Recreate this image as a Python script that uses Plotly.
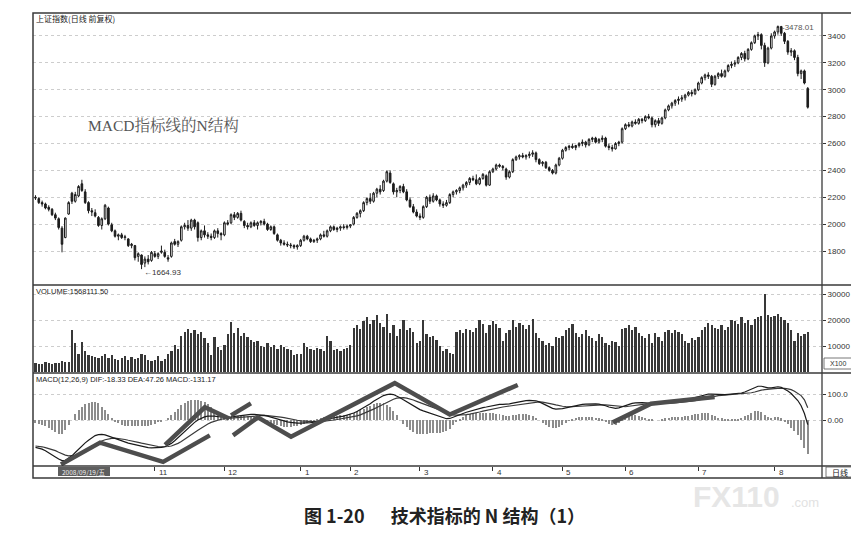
import plotly.graph_objects as go

# ---------------- data ----------------
opens = [2200,2190,2160,2150,2125,2110,2070,2040,1970,1900,
         2075,2230,2170,2210,2300,2240,2160,2100,2085,2050,
         1990,2040,2120,1995,1950,1910,1920,1900,1890,1840,
         1840,1760,1770,1710,1740,1730,1780,1760,1790,1790,
         1750,1760,1870,1850,1880,1980,1990,1970,2030,2010,
         1900,1950,1920,1910,1900,1950,1930,1920,2010,2010,
         2070,2050,2080,2020,1990,1980,2010,1990,2010,2020,
         2000,1960,1980,1920,1880,1860,1850,1845,1840,1830,
         1840,1880,1910,1890,1870,1880,1890,1920,1910,1950,
         1980,1960,1970,1980,1975,1985,2000,2050,2080,2100,
         2160,2190,2170,2230,2260,2250,2320,2380,2300,2240,
         2250,2280,2240,2180,2130,2090,2060,2050,2130,2200,
         2170,2210,2180,2150,2140,2160,2220,2240,2250,2270,
         2290,2310,2340,2330,2300,2340,2360,2290,2390,2410,
         2440,2430,2410,2350,2390,2480,2500,2510,2500,2510,
         2520,2530,2480,2450,2460,2420,2400,2380,2440,2490,
         2550,2570,2580,2570,2585,2600,2610,2590,2630,2640,
         2610,2630,2640,2580,2570,2560,2600,2610,2710,2740,
         2730,2760,2750,2780,2770,2800,2790,2740,2770,2750,
         2790,2850,2880,2900,2920,2930,2940,2960,2980,2970,
         3000,3050,3090,3110,3100,3040,3100,3120,3100,3140,
         3180,3190,3200,3240,3270,3230,3300,3350,3400,3410,
         3330,3200,3310,3400,3430,3470,3420,3360,3280,3290,
         3240,3120,3140,3010]
highs = [2215,2200,2175,2160,2140,2120,2085,2050,1985,2050,
         2170,2240,2240,2290,2330,2260,2170,2120,2110,2060,
         2050,2150,2130,2010,1960,1930,1935,1920,1895,1860,
         1845,1790,1775,1760,1770,1800,1800,1790,1840,1810,
         1770,1870,1890,1880,1990,2010,2030,2040,2040,2020,
         1960,1990,1940,1930,1960,1970,1940,2020,2030,2080,
         2090,2090,2100,2030,2010,2020,2030,2020,2030,2040,
         2010,1990,1990,1930,1890,1880,1870,1860,1850,1850,
         1890,1920,1920,1900,1890,1900,1930,1950,1960,1990,
         1990,1980,1990,2000,1995,2000,2060,2090,2110,2170,
         2200,2230,2240,2270,2290,2330,2400,2400,2310,2270,
         2290,2300,2260,2200,2150,2110,2080,2140,2210,2220,
         2230,2220,2190,2170,2180,2230,2250,2260,2280,2300,
         2320,2350,2360,2370,2350,2380,2370,2400,2420,2450,
         2450,2440,2420,2400,2490,2510,2520,2530,2520,2540,
         2550,2540,2490,2470,2470,2430,2410,2450,2500,2560,
         2580,2590,2600,2590,2610,2630,2620,2640,2650,2650,
         2640,2660,2650,2600,2590,2610,2620,2720,2750,2760,
         2770,2780,2790,2790,2810,2820,2800,2780,2790,2800,
         2860,2890,2910,2930,2950,2960,2970,2990,3000,3010,
         3060,3100,3120,3130,3110,3110,3130,3150,3150,3190,
         3210,3220,3250,3280,3290,3310,3360,3410,3430,3420,
         3350,3320,3420,3440,3478,3475,3430,3370,3310,3300,
         3260,3150,3150,3020]
lows = [2180,2150,2130,2110,2095,2060,2030,1960,1790,1895,
        2070,2150,2160,2200,2240,2150,2080,2060,2050,1980,
        1960,2030,1990,1940,1900,1880,1890,1880,1830,1820,
        1730,1720,1665,1680,1700,1720,1750,1740,1780,1750,
        1720,1750,1840,1830,1870,1960,1950,1950,1960,1870,
        1880,1900,1890,1880,1890,1900,1880,1910,1990,2000,
        2030,2040,2020,1970,1960,1970,1980,1960,1990,1990,
        1950,1950,1920,1870,1840,1840,1830,1820,1815,1810,
        1830,1870,1880,1860,1860,1860,1880,1900,1900,1940,
        1950,1940,1950,1960,1960,1970,1990,2040,2050,2090,
        2140,2150,2160,2200,2220,2240,2310,2300,2220,2200,
        2230,2230,2170,2120,2080,2050,2030,2040,2120,2150,
        2160,2170,2130,2120,2130,2150,2200,2220,2230,2250,
        2270,2290,2320,2290,2290,2330,2280,2285,2380,2400,
        2420,2400,2330,2340,2380,2470,2480,2490,2480,2490,
        2500,2460,2440,2430,2410,2390,2370,2370,2430,2480,
        2540,2550,2560,2550,2570,2580,2570,2580,2610,2600,
        2600,2610,2570,2550,2540,2555,2580,2600,2700,2720,
        2720,2740,2740,2750,2760,2780,2720,2720,2730,2740,
        2780,2840,2860,2880,2890,2910,2920,2950,2950,2960,
        2990,3040,3070,3080,3020,3030,3080,3090,3090,3130,
        3160,3170,3190,3220,3210,3220,3290,3340,3370,3300,
        3170,3190,3300,3380,3410,3400,3340,3260,3250,3220,
        3100,3080,3040,2860]
closes = [2195,2160,2150,2120,2110,2070,2045,1975,1850,2045,
          2160,2170,2220,2280,2250,2160,2100,2090,2060,1990,
          2040,2140,2000,1950,1910,1920,1900,1905,1840,1850,
          1750,1780,1700,1740,1720,1790,1760,1780,1800,1760,
          1740,1860,1850,1870,1980,1990,1970,2030,1980,1900,
          1950,1920,1910,1900,1950,1930,1920,2010,2000,2070,
          2050,2080,2030,1990,1980,2010,1990,2010,2020,2000,
          1960,1980,1930,1880,1860,1850,1845,1840,1830,1840,
          1880,1910,1890,1870,1880,1890,1920,1910,1950,1980,
          1960,1970,1980,1975,1985,1995,2050,2080,2100,2160,
          2190,2170,2230,2260,2240,2320,2390,2310,2240,2250,
          2280,2240,2180,2130,2090,2060,2050,2130,2200,2170,
          2210,2180,2150,2140,2160,2220,2240,2250,2270,2290,
          2310,2340,2330,2300,2340,2370,2290,2390,2410,2440,
          2430,2420,2350,2390,2480,2500,2510,2500,2510,2520,
          2530,2480,2450,2460,2420,2400,2380,2440,2490,2550,
          2570,2580,2570,2585,2600,2610,2590,2630,2640,2610,
          2630,2640,2580,2570,2560,2600,2610,2710,2740,2730,
          2760,2750,2780,2770,2800,2790,2740,2770,2750,2790,
          2850,2880,2900,2920,2930,2940,2960,2980,2970,3000,
          3050,3090,3110,3100,3040,3100,3120,3100,3140,3180,
          3190,3200,3240,3270,3230,3300,3350,3400,3410,3330,
          3200,3310,3400,3430,3470,3420,3360,3280,3290,3240,
          3120,3140,3050,2870]
volumes = [3500,3200,3000,3800,3300,3100,3600,3400,4200,3900,4000,
           16000,11000,7000,11500,8000,
           6500,6000,5800,5500,6300,6800,
           5200,6500,5000,4800,5500,6000,4500,5800,5000,5200,6800,6500,4600,4300,4800,6000,4200,5000,7000,
           8000,10500,9000,
           14000,15500,16700,15000,16000,14500,15500,13000,11000,
           6500,13500,9500,8500,10500,14700,19300,
           15000,17000,14000,
           15000,13500,12500,11500,12000,
           10000,9500,11000,9800,10200,9000,10500,9600,9000,8500,
           6500,7000,6800,11000,
           9500,9000,8500,9200,8800,8000,
           14000,12000,
           8500,9000,8200,8800,9200,10500,
           17000,18000,16500,19500,21000,18500,20000,22000,19000,17500,22500,
           15000,18000,14000,16500,20000,
           16000,17000,15500,11000,12000,20000,
           14500,13500,14000,12500,
           10000,8000,9000,7500,7000,
           15500,16000,15000,16500,16000,
           15500,17000,20000,18500,15000,
           18000,19500,18500,17000,12000,15000,
           16000,20000,17500,19000,18000,16500,
           18000,20500,15000,
           13000,12000,10500,11000,10000,
           13500,13000,14000,16000,17000,18500,
           15000,13500,14500,16000,14000,
           13000,12000,14500,13500,
           11000,10500,12000,11500,10000,
           16500,17000,18000,16000,17500,
           15000,14000,13000,14500,11000,15000,13500,12000,
           15500,16000,15000,16000,15500,14500,
           12000,11000,13000,12500,13500,
           16000,17500,19000,18000,
           17000,16500,18000,16000,17500,
           20000,19500,
           18500,21000,19000,20000,18000,20500,
           21000,21500,30000,
           22000,21000,21500,22500,21000,20000,
           19000,16000,12000,
           15000,14000,14500,15500]
dif = [-105,-108,-112,-118,-125,-132,-142,-150,-156,-155,
       -148,-138,-125,-112,-100,-88,-78,-68,-60,-56,
       -55,-57,-62,-67,-72,-77,-82,-86,-89,-92,
       -95,-98,-101,-104,-106,-107,-107,-106,-105,-103,
       -98,-90,-80,-68,-55,-42,-30,-19,-9,0,
       7,12,15,16,15,13,12,11,11,12,
       14,16,18,20,21,22,22,21,20,18,
       15,11,7,3,-1,-4,-7,-9,-11,-12,
       -12,-12,-11,-10,-8,-6,-3,0,3,6,
       8,10,13,15,18,22,27,33,40,47,
       55,63,72,80,88,94,98,100,98,93,
       86,78,70,62,54,46,40,35,31,27,
       22,17,12,8,5,6,10,15,20,25,
       30,34,38,42,45,48,50,53,56,58,
       60,60,60,62,65,68,71,73,75,76,
       76,74,70,64,57,50,45,42,42,44,
       47,50,53,56,58,60,61,62,62,62,
       61,59,55,50,46,45,47,52,57,61,
       64,66,67,67,66,65,64,63,63,64,
       66,68,70,72,73,75,77,79,82,86,
       90,94,98,100,100,99,98,98,98,99,
       100,101,102,104,108,113,119,125,130,130,
       126,124,124,126,128,126,120,112,102,90,
       75,55,25,-18]
dea = [-100,-101,-103,-106,-109,-113,-118,-124,-130,-135,
       -138,-138,-136,-131,-125,-118,-111,-103,-95,-88,
       -81,-76,-73,-71,-70,-71,-73,-75,-78,-80,
       -83,-86,-89,-92,-95,-98,-100,-102,-103,-103,
       -102,-100,-96,-90,-83,-75,-66,-57,-48,-39,
       -30,-22,-15,-9,-4,0,3,5,6,7,
       8,9,10,12,13,15,16,17,18,18,
       17,16,15,13,11,9,6,4,1,-1,
       -3,-4,-6,-7,-7,-7,-6,-5,-4,-2,
       0,2,4,6,8,10,13,16,20,25,
       30,36,42,48,55,62,69,75,80,84,
       86,86,84,81,77,72,67,62,57,52,
       47,42,37,32,27,23,20,19,19,20,
       21,23,25,28,31,34,37,40,43,46,
       48,50,52,54,56,58,60,62,64,66,
       68,70,70,69,67,64,61,58,55,53,
       52,51,51,52,53,54,55,56,57,58,
       58,58,58,57,56,54,52,51,51,53,
       55,57,59,61,62,63,63,63,63,63,
       63,64,65,66,67,69,70,72,73,75,
       78,81,84,87,90,92,94,95,96,97,
       98,99,100,100,101,103,105,108,112,115,
       117,119,120,121,122,123,122,120,117,111,
       104,94,78,47]

# hand-drawn "N structure" strokes on the MACD panel: (day index, value)
n_stroke_1 = [(7.7, -171), (19.5, -87), (38.5, -161), (52.6, -59)]
n_stroke_2 = [(39.1, -96), (51.1, 49), (58.4, 6)]
n_stroke_3 = [(59.0, 18), (65.0, 64)]
n_stroke_4 = [(59.6, -59), (67.1, 10), (77.1, -64), (108.4, 142), (125.0, 21), (145.5, 135)]
n_stroke_5 = [(174.2, -9), (185.7, 63), (204.9, 89)]

price_ticks = [1800, 2000, 2200, 2400, 2600, 2800, 3000, 3200, 3400]
vol_ticks = [10000, 20000, 30000]
vol_ticktext = ["10000", "20000", "30000"]
macd_ticks = [0, 100]
macd_ticktext = ["0.00", "100.0"]
month_idx = [36, 57, 80, 95, 116, 138, 159, 178, 200, 223]
month_labels = ["11", "12", "1", "2", "3", "4", "5", "6", "7", "8"]
low_idx, low_val = 32, 1664.93
high_idx, high_val = 224, 3478.01

N = len(closes)
for arr in (opens, highs, lows, volumes, dif, dea):
    assert len(arr) == N, len(arr)
idx = list(range(N))
macd_hist = [2 * (a - b) for a, b in zip(dif, dea)]

# ---------------- geometry helpers (pixel -> paper) ----------------
W, H = 859, 538
ML, MR, MT, MB = 25, 45, 5, 80
PW, PH = W - ML - MR, H - MT - MB
def PX(px):
    return (px - ML) / PW
def PY(py):
    return (H - MB - py) / PH

XR = [-0.75, 237.3]
dom_price = [PY(277), 1]
dom_vol = [PY(365), PY(277)]
dom_macd = [0, PY(365)]

SMALL = "Liberation Sans, Arial, sans-serif"
CJK = "Noto Sans CJK SC, sans-serif"

fig = go.Figure()
fig.add_trace(go.Candlestick(
    x=idx, open=opens, high=highs, low=lows, close=closes,
    increasing=dict(line=dict(color="#1c1c1c", width=1), fillcolor="#ffffff"),
    decreasing=dict(line=dict(color="#1c1c1c", width=1), fillcolor="#1c1c1c"),
    whiskerwidth=0, xaxis="x", yaxis="y", showlegend=False, hoverinfo="skip"))
fig.add_trace(go.Bar(
    x=idx, y=volumes, width=0.68, marker=dict(color="#383838", line=dict(width=0)),
    xaxis="x2", yaxis="y2", showlegend=False, hoverinfo="skip"))
fig.add_trace(go.Bar(
    x=idx, y=macd_hist, width=0.3, marker=dict(color="#8c8c8c", line=dict(width=0)),
    xaxis="x3", yaxis="y3", showlegend=False, hoverinfo="skip"))
fig.add_trace(go.Scatter(
    x=idx, y=dea, mode="lines", line=dict(color="#3a3a3a", width=1.2),
    xaxis="x3", yaxis="y3", showlegend=False, hoverinfo="skip"))
fig.add_trace(go.Scatter(
    x=idx, y=dif, mode="lines", line=dict(color="#1a1a1a", width=1.2),
    xaxis="x3", yaxis="y3", showlegend=False, hoverinfo="skip"))
for stroke in (n_stroke_1, n_stroke_2, n_stroke_3, n_stroke_4, n_stroke_5):
    fig.add_trace(go.Scatter(
        x=[p[0] for p in stroke], y=[p[1] for p in stroke], mode="lines",
        line=dict(color="#4d4d4d", width=4.5), xaxis="x3", yaxis="y3",
        showlegend=False, hoverinfo="skip"))

axis_common = dict(showgrid=False, zeroline=False, showline=False)
yaxis_common = dict(side="right", showgrid=True, gridcolor="#cdcdcd", griddash="dot",
                    gridwidth=1, zeroline=False, showline=False, ticks="outside",
                    ticklen=3, tickcolor="#333", tickfont=dict(family=SMALL, size=8, color="#333"))

fig.update_layout(
    width=W, height=H, margin=dict(l=ML, r=MR, t=MT, b=MB),
    paper_bgcolor="white", plot_bgcolor="white", showlegend=False,
    bargap=0,
    xaxis=dict(domain=[0, 1], range=XR, anchor="y", showticklabels=False, ticks="",
               rangeslider=dict(visible=False), **axis_common),
    xaxis2=dict(domain=[0, 1], range=XR, anchor="y2", matches="x", showticklabels=False,
                ticks="", **axis_common),
    xaxis3=dict(domain=[0, 1], range=XR, anchor="y3", matches="x", showticklabels=False,
                tickmode="array", tickvals=month_idx, ticks="outside", ticklen=4,
                tickcolor="#333", **axis_common),
    yaxis=dict(domain=dom_price, range=[1547, 3571], anchor="x", tickmode="array",
               tickvals=price_ticks, **yaxis_common),
    yaxis2=dict(domain=dom_vol, range=[-385, 33460], anchor="x2", tickmode="array",
                tickvals=vol_ticks, ticktext=vol_ticktext, **yaxis_common),
    yaxis3=dict(domain=dom_macd, range=[-177, 181], anchor="x3", tickmode="array",
                tickvals=macd_ticks, ticktext=macd_ticktext, **yaxis_common),
)

# ---------------- frame lines ----------------
FC = "#3a3a3a"
shapes = [
    dict(type="rect", xref="paper", yref="paper", x0=PX(25), x1=PX(848), y0=PY(470), y1=PY(5),
         line=dict(color=FC, width=1.5)),
    dict(type="line", xref="paper", yref="paper", x0=PX(814), x1=PX(814), y0=PY(470), y1=PY(5),
         line=dict(color=FC, width=1.3)),
]
for py in (277, 365, 458):
    shapes.append(dict(type="line", xref="paper", yref="paper", x0=PX(25), x1=PX(848),
                       y0=PY(py), y1=PY(py), line=dict(color=FC, width=1.3)))
# small boxes: X100, 日线, cursor date
shapes.append(dict(type="rect", xref="paper", yref="paper", x0=PX(816), x1=PX(844),
                   y0=PY(361), y1=PY(350), line=dict(color="#555", width=0.8)))
shapes.append(dict(type="rect", xref="paper", yref="paper", x0=PX(818), x1=PX(846),
                   y0=PY(469), y1=PY(459), line=dict(color="#555", width=0.8)))
shapes.append(dict(type="rect", xref="paper", yref="paper", x0=PX(50), x1=PX(102),
                   y0=PY(468), y1=PY(459), fillcolor="#5e5e5e", line=dict(width=0)))
fig.update_layout(shapes=shapes)

ann = []
def text(px, py, s, size=8, family=SMALL, color="#333", xanchor="left", yanchor="middle"):
    ann.append(dict(xref="paper", yref="paper", x=PX(px), y=PY(py), text=s, showarrow=False,
                    xanchor=xanchor, yanchor=yanchor, borderpad=0,
                    font=dict(family=family, size=size, color=color)))

text(27, 11, "上证指数(日线 前复权)", size=8, family=CJK, color="#222")
text(27, 283, "VOLUME:1568111.50", size=7.5, color="#222")
text(27, 371, "MACD(12,26,9) DIF:-18.33 DEA:47.26 MACD:-131.17", size=7.5, color="#222")
text(79, 117, "MACD指标线的N结构", size=15.5,
     family="Liberation Serif, Noto Serif CJK SC, Noto Sans CJK SC, serif", color="#555")
text(830, 355.5, "X100", size=7, xanchor="center")
text(832, 464, "日线", size=8, family=CJK, xanchor="center", color="#222")
text(76, 463.5, "2008/09/19/五", size=6.5, family=CJK, color="#eeeeee", xanchor="center")
text(437, 507, "<b>图 1-20　  技术指标的 N 结构（1）</b>", size=18, family=CJK, color="#222",
     xanchor="center")
text(684, 489, "<b>FX110</b>", size=30, color="#e6e6e6")
text(782, 494, ".com", size=13, color="#e2e2e2")

for mi, ml in zip(month_idx, month_labels):
    ann.append(dict(xref="x3", yref="paper", x=mi + 0.6, y=PY(464), text=ml, showarrow=False,
                    xanchor="left", yanchor="middle", font=dict(family=SMALL, size=8, color="#333")))

ann.append(dict(xref="x", yref="y", x=low_idx + 0.2, y=low_val - 25, text="←%.2f" % low_val,
                showarrow=False, xanchor="left", yanchor="middle",
                font=dict(family=SMALL, size=8, color="#333")))
ann.append(dict(xref="x", yref="y", x=high_idx + 0.6, y=high_val - 15, text="-%.2f" % high_val,
                showarrow=False, xanchor="left", yanchor="middle",
                font=dict(family=SMALL, size=8, color="#555")))
fig.update_layout(annotations=ann)

fig.write_html("out.html")
